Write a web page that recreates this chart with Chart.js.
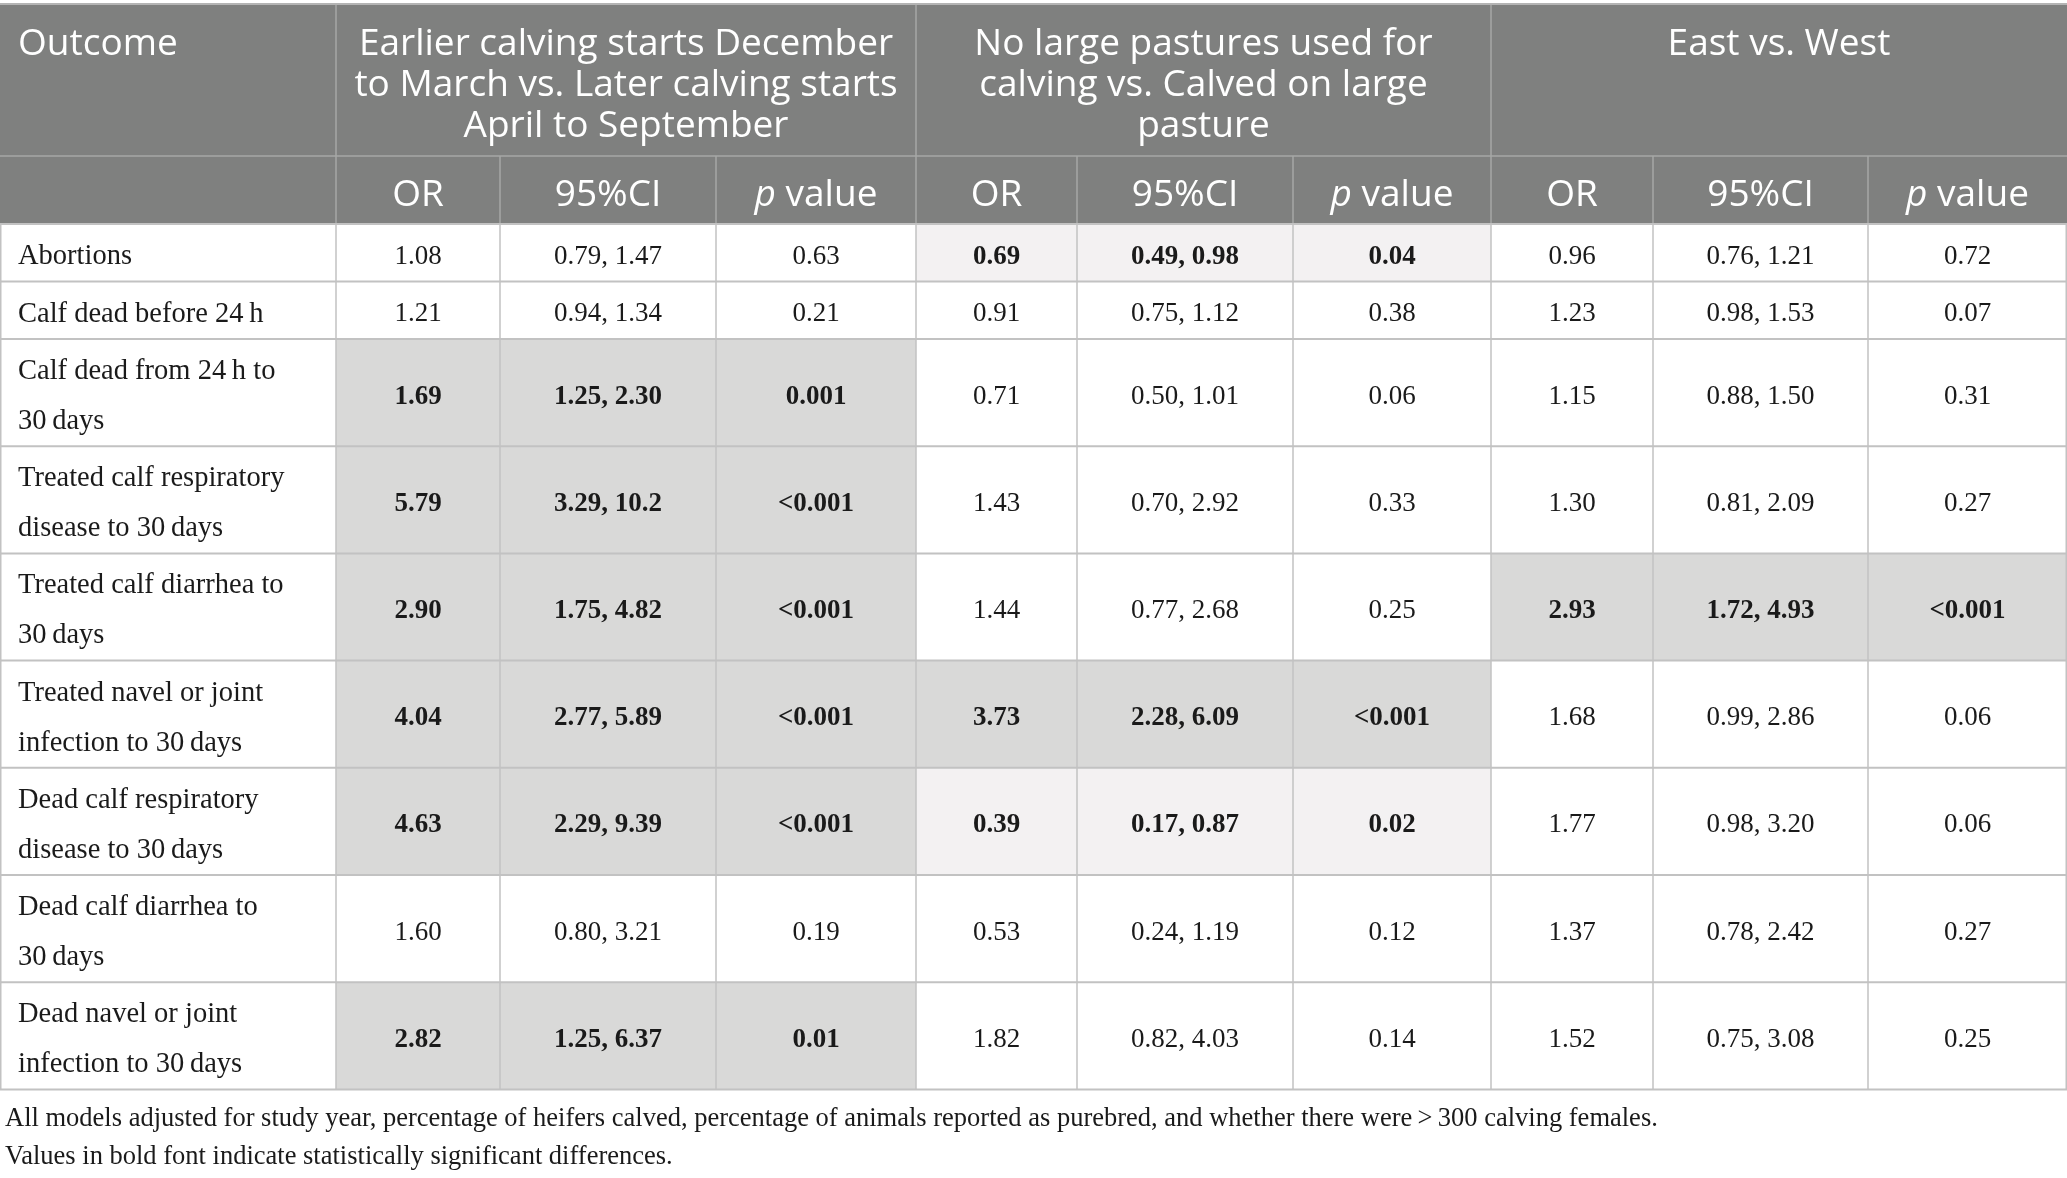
<!DOCTYPE html>
<html>
<head>
<meta charset="utf-8">
<script src="https://cdn.jsdelivr.net/npm/chart.js@4.4.1/dist/chart.umd.min.js"></script>
<style>
  html, body { margin: 0; padding: 0; background: #fff; }
  canvas { display: block; }
</style>
</head>
<body>
<canvas id="tableChart" width="2067" height="1178"></canvas>
<script>
const outcomes = [
  'Abortions',
  'Calf dead before 24\u2009h',
  'Calf dead from 24\u2009h to\n30\u2009days',
  'Treated calf respiratory\ndisease to 30\u2009days',
  'Treated calf diarrhea to\n30\u2009days',
  'Treated navel or joint\ninfection to 30\u2009days',
  'Dead calf respiratory\ndisease to 30\u2009days',
  'Dead calf diarrhea to\n30\u2009days',
  'Dead navel or joint\ninfection to 30\u2009days'
];
const groupTitles = [
  'Earlier calving starts December\nto March vs. Later calving starts\nApril to September',
  'No large pastures used for\ncalving vs. Calved on large\npasture',
  'East vs. West'
];
const statLabels = ['OR', '95%CI', 'p value'];

const orEarly = ['1.08', '1.21', '1.69', '5.79', '2.90', '4.04', '4.63', '1.60', '2.82'];
const ciEarly = ['0.79, 1.47', '0.94, 1.34', '1.25, 2.30', '3.29, 10.2', '1.75, 4.82', '2.77, 5.89', '2.29, 9.39', '0.80, 3.21', '1.25, 6.37'];
const pEarly = ['0.63', '0.21', '0.001', '<0.001', '<0.001', '<0.001', '<0.001', '0.19', '0.01'];

const orPasture = ['0.69', '0.91', '0.71', '1.43', '1.44', '3.73', '0.39', '0.53', '1.82'];
const ciPasture = ['0.49, 0.98', '0.75, 1.12', '0.50, 1.01', '0.70, 2.92', '0.77, 2.68', '2.28, 6.09', '0.17, 0.87', '0.24, 1.19', '0.82, 4.03'];
const pPasture = ['0.04', '0.38', '0.06', '0.33', '0.25', '<0.001', '0.02', '0.12', '0.14'];

const orEast = ['0.96', '1.23', '1.15', '1.30', '2.93', '1.68', '1.77', '1.37', '1.52'];
const ciEast = ['0.76, 1.21', '0.98, 1.53', '0.88, 1.50', '0.81, 2.09', '1.72, 4.93', '0.99, 2.86', '0.98, 3.20', '0.78, 2.42', '0.75, 3.08'];
const pEast = ['0.72', '0.07', '0.31', '0.27', '<0.001', '0.06', '0.06', '0.27', '0.25'];

const footnotes = [
  'All models adjusted for study year, percentage of heifers calved, percentage of animals reported as purebred, and whether there were\u2009>\u2009300 calving females.',
  'Values in bold font indicate statistically significant differences.'
];

// --- layout (in scale units, which map 1:1 onto the canvas) ---
const W = 2067, H = 1178;
const colWidths = [336, 164, 216, 200, 161, 216, 198, 162, 215, 199];
const headTop = 5, head1H = 151, head2H = 68;
const lineRowH = 57.5, twoLineRowH = 107.2, bodyLineGap = 50;
const headFont = '"Open Sans", "Noto Sans", sans-serif';
const bodyFont = '"Liberation Serif", "DejaVu Serif", serif';
const headSize = 37, labelSize = 28.5, numSize = 27, noteSize = 26.5;

const colors = {
  head: '#7f807f',
  headLine: '#a6a7a6',
  grid: '#c2c2c2',
  sigUp: '#d9d9d8',
  sigDown: '#f3f1f2',
  text: '#1a1a1a'
};

const groups = [
  [orEarly, ciEarly, pEarly],
  [orPasture, ciPasture, pPasture],
  [orEast, ciEast, pEast]
];

function isSig(p) {
  return p.startsWith('<') || parseFloat(p) < 0.05;
}

const tablePlugin = {
  id: 'tablePlugin',
  afterDraw(chart) {
    const ctx = chart.ctx;
    const xs = chart.scales.x, ys = chart.scales.y;
    const px = v => xs.getPixelForValue(v);
    const py = v => ys.getPixelForValue(v);

    const edges = [0];
    colWidths.forEach(w => edges.push(edges[edges.length - 1] + w));
    const groupEdges = [edges[1], edges[4], edges[7], edges[10]];

    const rowTops = [headTop + head1H + head2H];
    outcomes.forEach(o => {
      const n = o.split('\n').length;
      rowTops.push(rowTops[rowTops.length - 1] + (n > 1 ? twoLineRowH : lineRowH));
    });
    const bodyTop = rowTops[0];
    const bodyBottom = rowTops[rowTops.length - 1];

    ctx.save();

    // header background
    ctx.fillStyle = colors.head;
    ctx.fillRect(px(0), py(headTop), px(W) - px(0), py(bodyTop) - py(headTop));

    // cell shading for significant results
    groups.forEach((g, gi) => {
      outcomes.forEach((o, r) => {
        if (!isSig(g[2][r])) return;
        ctx.fillStyle = parseFloat(g[0][r]) < 1 ? colors.sigDown : colors.sigUp;
        const x0 = edges[1 + gi * 3], x1 = edges[4 + gi * 3];
        ctx.fillRect(px(x0), py(rowTops[r]), px(x1) - px(x0), py(rowTops[r + 1]) - py(rowTops[r]));
      });
    });

    // header lines
    ctx.strokeStyle = colors.headLine;
    ctx.lineWidth = 1.5;
    ctx.beginPath();
    groupEdges.slice(0, 3).forEach(e => {
      ctx.moveTo(px(e), py(headTop));
      ctx.lineTo(px(e), py(bodyTop));
    });
    edges.slice(1, 10).forEach(e => {
      ctx.moveTo(px(e), py(headTop + head1H));
      ctx.lineTo(px(e), py(bodyTop));
    });
    ctx.moveTo(px(0), py(headTop + head1H));
    ctx.lineTo(px(W), py(headTop + head1H));
    ctx.stroke();

    ctx.strokeStyle = '#b4b4b4';
    ctx.lineWidth = 2;
    ctx.beginPath();
    ctx.moveTo(px(0), py(headTop - 1));
    ctx.lineTo(px(W), py(headTop - 1));
    ctx.stroke();

    // body grid
    ctx.strokeStyle = colors.grid;
    ctx.lineWidth = 2;
    ctx.beginPath();
    rowTops.forEach(t => {
      ctx.moveTo(px(0), py(t));
      ctx.lineTo(px(W), py(t));
    });
    ctx.stroke();
    ctx.lineWidth = 1.5;
    ctx.beginPath();
    edges.forEach((e, i) => {
      const x = i === 0 ? px(e) + 0.75 : (i === edges.length - 1 ? px(e) - 0.75 : px(e));
      ctx.moveTo(x, py(bodyTop));
      ctx.lineTo(x, py(bodyBottom));
    });
    ctx.stroke();

    // header text
    const hf = headSize + 'px ' + headFont;
    ctx.fillStyle = '#ffffff';
    ctx.textBaseline = 'middle';
    ctx.font = hf;
    ctx.textAlign = 'left';
    ctx.fillText('Outcome', px(18), py(headTop + 39));
    ctx.textAlign = 'center';
    groupTitles.forEach((t, gi) => {
      const cx = (groupEdges[gi] + groupEdges[gi + 1]) / 2;
      t.split('\n').forEach((line, li) => {
        ctx.fillText(line, px(cx), py(headTop + 39 + li * 41));
      });
    });
    const subY = headTop + head1H + head2H / 2 + 5;
    for (let c = 1; c < 10; c++) {
      const label = statLabels[(c - 1) % 3];
      const cx = (edges[c] + edges[c + 1]) / 2;
      if (label.startsWith('p ')) {
        const rest = label.slice(1);
        ctx.font = 'italic ' + hf;
        const wp = ctx.measureText('p').width;
        ctx.font = hf;
        const wr = ctx.measureText(rest).width;
        const left = px(cx) - (wp + wr) / 2;
        ctx.textAlign = 'left';
        ctx.font = 'italic ' + hf;
        ctx.fillText('p', left, py(subY));
        ctx.font = hf;
        ctx.fillText(rest, left + wp, py(subY));
        ctx.textAlign = 'center';
      } else {
        ctx.font = hf;
        ctx.fillText(label, px(cx), py(subY));
      }
    }

    // body text
    ctx.fillStyle = colors.text;
    outcomes.forEach((o, r) => {
      const lines = o.split('\n');
      const mid = (rowTops[r] + rowTops[r + 1]) / 2 + 4;
      ctx.font = labelSize + 'px ' + bodyFont;
      ctx.textAlign = 'left';
      lines.forEach((line, li) => {
        const y = mid + (li - (lines.length - 1) / 2) * bodyLineGap;
        ctx.fillText(line, px(18), py(y));
      });
      ctx.textAlign = 'center';
      groups.forEach((g, gi) => {
        const bold = isSig(g[2][r]);
        ctx.font = (bold ? 'bold ' : '') + numSize + 'px ' + bodyFont;
        g.forEach((col, k) => {
          const c = 1 + gi * 3 + k;
          const cx = (edges[c] + edges[c + 1]) / 2;
          ctx.fillText(col[r], px(cx), py(mid));
        });
      });
    });

    // footnotes
    ctx.font = noteSize + 'px ' + bodyFont;
    ctx.textAlign = 'left';
    footnotes.forEach((f, i) => {
      ctx.fillText(f, px(5), py(bodyBottom + 30 + i * 38));
    });

    ctx.restore();
  }
};

const chart = new Chart(document.getElementById('tableChart'), {
  type: 'scatter',
  data: { datasets: [{ data: [] }] },
  options: {
    responsive: false,
    animation: false,
    devicePixelRatio: 1,
    layout: { padding: 0 },
    plugins: { legend: { display: false }, tooltip: { enabled: false } },
    scales: {
      x: { type: 'linear', min: 0, max: W, display: false },
      y: { type: 'linear', min: 0, max: H, reverse: true, display: false }
    }
  },
  plugins: [tablePlugin]
});
</script>
</body>
</html>
